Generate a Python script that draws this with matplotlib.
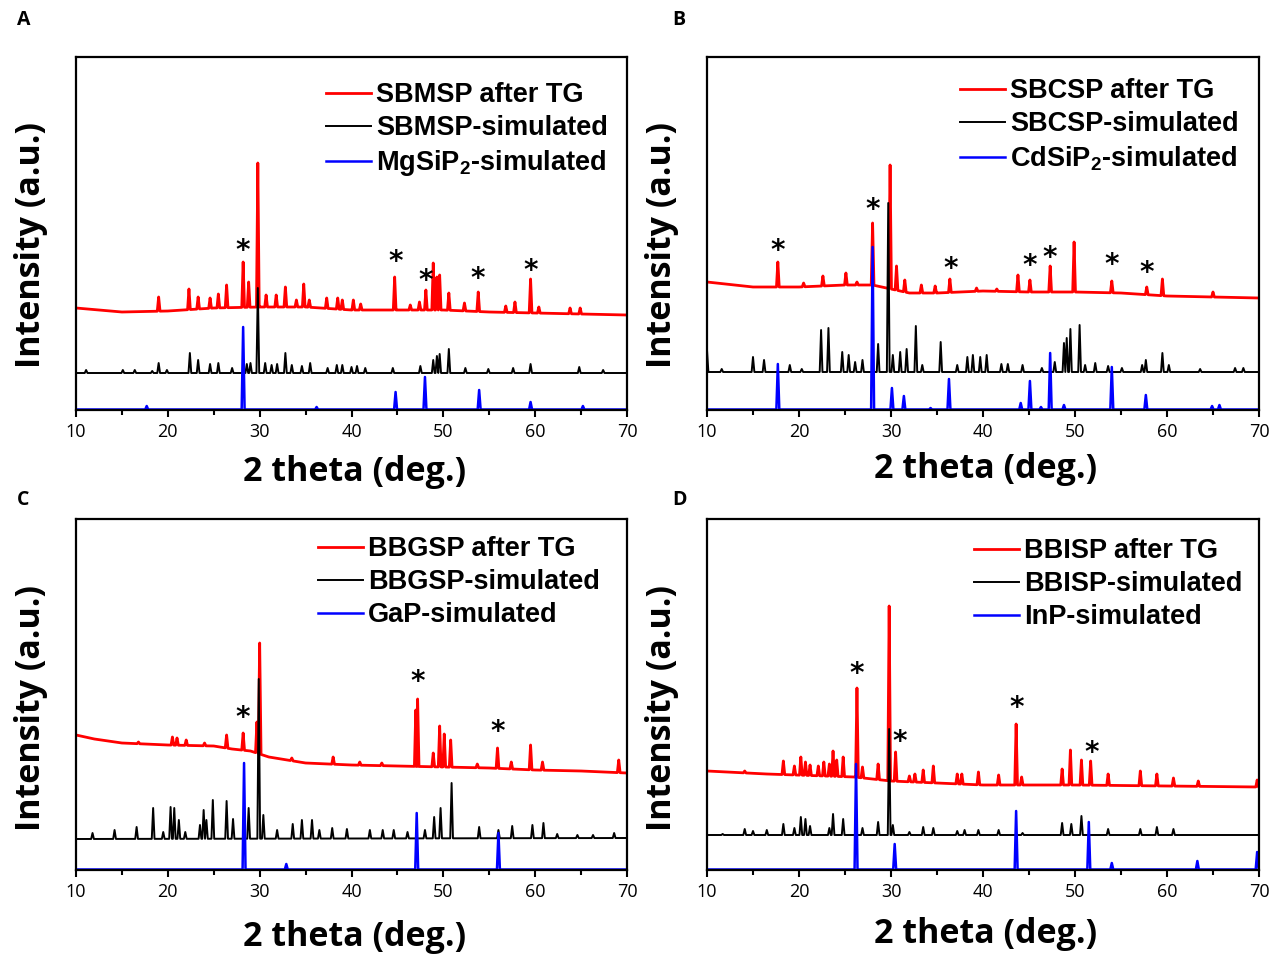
import matplotlib
matplotlib.use("Agg")
import matplotlib.pyplot as plt
import numpy as np

plt.rcParams['font.family'] = ['Open Sans', 'DejaVu Sans']
plt.rcParams['mathtext.fontset'] = 'custom'
plt.rcParams['mathtext.rm'] = 'Liberation Sans:bold'
plt.rcParams['mathtext.bf'] = 'Liberation Sans:bold'

# ---------- panel A ----------
a_red_bx = [10, 15, 20, 25, 30, 35, 40, 45, 50, 55, 60, 65, 70]
a_red_by = [102, 98, 99, 102, 103, 103, 100, 100, 100, 98, 97, 96, 95]
a_red_pos = [19.0, 22.3, 23.3, 24.6, 25.5, 26.4, 28.2, 28.8, 29.8, 30.7, 31.8, 32.8, 34.0, 34.8,
             35.4, 37.3, 38.5, 39.0, 40.2, 41.0, 44.7, 46.4, 47.4, 48.1, 48.9, 49.3, 49.6, 50.6,
             52.3, 53.8, 56.8, 57.8, 59.5, 60.4, 63.8, 64.9]
a_red_int = [113, 121, 113, 112, 116, 125, 148, 128, 247, 115, 115, 123, 110, 126,
             110, 112, 112, 110, 110, 106, 133, 105, 108, 120, 147, 133, 135, 117,
             107, 118, 104, 108, 131, 103, 102, 102]
a_blk_bx = [10, 70]
a_blk_by = [37, 37]
a_blk_pos = [11.1, 15.1, 16.4, 18.3, 19.0, 19.9, 22.4, 23.3, 24.6, 25.5, 27.0, 28.6, 29.0, 29.8,
             30.6, 31.3, 31.9, 32.8, 33.5, 34.6, 35.5, 37.4, 38.4, 39.0, 40.0, 40.6, 41.5, 44.5,
             47.5, 48.9, 49.3, 49.6, 50.6, 52.4, 54.9, 57.6, 59.5, 64.8, 67.4]
a_blk_int = [40, 40, 40, 39, 47, 40, 57, 50, 46, 47, 42, 46, 47, 122,
             47, 45, 46, 57, 45, 44, 47, 42, 45, 45, 43, 44, 42, 42,
             44, 50, 54, 56, 61, 42, 41, 42, 46, 43, 40]
a_blu_pos = [17.7, 28.2, 36.2, 44.8, 48.0, 53.9, 59.5, 65.2]
a_blu_int = [4, 83, 3, 18, 33, 20, 8, 4]
a_stars_x = [28.2, 44.8, 48.1, 53.7, 59.5]
a_stars_y = [159, 148, 129, 131, 139]

# ---------- panel B ----------
b_red_bx = [10, 15, 20, 25, 28, 32, 35, 40, 45, 50, 55, 60, 65, 70]
b_red_by = [128, 123, 123, 125, 125, 117, 117, 119, 118, 118, 117, 114, 113, 112]
b_red_pos = [17.7, 20.5, 22.6, 25.1, 26.3, 28.0, 29.9, 30.6, 31.5, 33.3, 34.8, 36.4, 39.3, 41.5,
             43.8, 45.1, 47.3, 49.9, 54.0, 57.8, 59.5, 65.0]
b_red_int = [148, 127, 134, 137, 128, 187, 245, 144, 130, 125, 124, 131, 122, 121,
             135, 130, 144, 168, 129, 123, 131, 118]
b_blk_bx = [10, 70]
b_blk_by = [38, 38]
b_blk_pos = [10.0, 11.6, 15.0, 16.2, 19.0, 20.3, 22.4, 23.2, 24.7, 25.4, 26.1, 26.9, 28.6, 29.7,
             30.2, 31.0, 31.7, 32.7, 33.4, 35.4, 37.2, 38.3, 38.9, 39.7, 40.4, 42.0, 42.7, 44.3,
             46.4, 47.8, 48.8, 49.1, 49.5, 50.5, 51.1, 52.2, 53.6, 55.1, 57.3, 57.7, 59.5, 60.2,
             63.6, 67.4, 68.3]
b_blk_int = [60, 41, 53, 50, 45, 41, 80, 82, 58, 55, 48, 50, 66, 207,
             55, 58, 61, 84, 45, 68, 45, 53, 55, 53, 55, 46, 46, 45,
             42, 48, 67, 72, 81, 85, 45, 47, 44, 42, 45, 50, 57, 45,
             41, 42, 42]
b_blu_pos = [17.7, 28.0, 30.1, 31.4, 34.3, 36.3, 44.1, 45.1, 46.3, 47.3, 48.8, 54.0, 57.7, 64.9, 65.7]
b_blu_int = [46, 163, 22, 14, 2, 31, 7, 29, 3, 57, 5, 43, 15, 4, 5]
b_stars_x = [17.7, 28.0, 36.5, 45.1, 47.3, 54.0, 57.8]
b_stars_y = [159, 200, 141, 144, 152, 145, 137]

# ---------- panel C ----------
c_red_bx = [10, 12, 15, 20, 25, 27, 29, 31, 35, 40, 45, 50, 55, 60, 65, 70]
c_red_by = [135, 131, 127, 125, 124, 121, 119, 113, 107, 105, 104, 103, 102, 100, 99, 97]
c_red_pos = [16.8, 20.5, 21.0, 22.0, 24.0, 26.4, 28.2, 29.7, 30.0, 33.5, 38.0, 40.9, 43.3, 47.0,
             47.2, 48.9, 49.6, 50.1, 50.8, 53.7, 55.9, 57.4, 59.5, 60.8, 69.1]
c_red_int = [128, 133, 132, 130, 127, 135, 137, 148, 227, 112, 113, 108, 107, 160,
             171, 117, 144, 136, 130, 106, 122, 108, 125, 108, 110]
c_blk_bx = [10, 70]
c_blk_by = [31, 32]
c_blk_pos = [11.8, 14.2, 16.6, 18.4, 19.5, 20.3, 20.7, 21.2, 21.9, 23.5, 23.9, 24.2, 24.9, 26.4,
             27.1, 28.8, 29.9, 30.4, 31.9, 33.6, 34.6, 35.7, 36.5, 37.9, 39.5, 42.0, 43.4, 44.6,
             46.1, 48.0, 49.0, 49.7, 50.9, 53.9, 56.0, 57.5, 59.7, 60.9, 62.4, 64.6, 66.3, 68.6]
c_blk_int = [37, 40, 43, 62, 38, 63, 62, 50, 38, 45, 60, 50, 70, 69,
             51, 62, 191, 55, 40, 46, 50, 50, 40, 42, 41, 40, 40, 40,
             38, 40, 53, 62, 87, 43, 40, 44, 45, 47, 36, 35, 35, 37]
c_blu_pos = [28.3, 32.9, 47.1, 56.0]
c_blu_int = [107, 6, 57, 37]
c_stars_x = [28.2, 47.2, 55.9]
c_stars_y = [152, 188, 138]

# ---------- panel D ----------
d_red_bx = [10, 16.5, 26, 30, 35, 40, 50, 60, 70]
d_red_by = [99, 96, 93, 89, 87, 85, 85, 84, 83]
d_red_pos = [14.1, 18.3, 19.5, 20.2, 20.7, 21.2, 22.1, 22.7, 23.3, 23.7, 24.1, 24.8, 26.3, 26.9,
             28.6, 29.8, 30.5, 32.0, 32.6, 33.5, 34.6, 37.2, 37.7, 39.5, 41.7, 43.6, 44.2, 48.6,
             49.5, 50.7, 51.7, 53.6, 57.1, 58.9, 60.7, 63.4, 69.8]
d_red_int = [99, 109, 104, 113, 108, 105, 104, 108, 106, 119, 110, 113, 182, 103,
             106, 264, 118, 94, 96, 100, 104, 96, 96, 98, 95, 146, 93, 101,
             120, 110, 109, 96, 99, 96, 92, 89, 90]
d_blk_bx = [10, 70]
d_blk_by = [35, 35]
d_blk_pos = [11.7, 14.1, 15.0, 16.5, 18.3, 19.5, 20.2, 20.7, 21.2, 23.3, 23.7, 24.8, 26.9, 28.6,
             29.8, 30.2, 32.0, 33.5, 34.6, 37.2, 38.0, 39.5, 41.7, 44.3, 48.6, 49.6, 50.7, 53.6,
             57.1, 58.9, 60.7]
d_blk_int = [36, 41, 39, 40, 46, 42, 53, 51, 44, 42, 56, 51, 42, 48,
             141, 45, 38, 43, 42, 39, 40, 40, 40, 37, 47, 46, 54, 41,
             41, 43, 41]
d_blu_pos = [26.2, 30.4, 43.6, 51.5, 54.0, 63.3, 69.8]
d_blu_int = [106, 26, 59, 48, 7, 9, 18]
d_stars_x = [26.3, 30.9, 43.7, 51.8]
d_stars_y = [196, 128, 162, 117]

labels_A = ['SBMSP after TG', 'SBMSP-simulated', 'MgSiP$_2$-simulated']
labels_B = ['SBCSP after TG', 'SBCSP-simulated', 'CdSiP$_2$-simulated']
labels_C = ['BBGSP after TG', 'BBGSP-simulated', 'GaP-simulated']
labels_D = ['BBISP after TG', 'BBISP-simulated', 'InP-simulated']


def trace(bx, by, pos, inten, w):
    # stick peaks sitting on a piecewise baseline
    pos = np.asarray(pos, float)
    keep = [x for x in bx if np.all(np.abs(pos - x) > w)]
    pts = [(x, np.interp(x, bx, by)) for x in keep]
    for p, h in zip(pos, inten):
        pts.append((p - w, np.interp(p - w, bx, by)))
        pts.append((p, h))
        pts.append((p + w, np.interp(p + w, bx, by)))
    pts.sort(key=lambda t: t[0])
    xs, ys = zip(*pts)
    return np.array(xs), np.array(ys)


W, H = 1273, 955
fig = plt.figure(figsize=(W / 100, H / 100), dpi=100)

panels = [
    ('A', (76, 57, 627, 410), (a_red_bx, a_red_by, a_red_pos, a_red_int),
     (a_blk_bx, a_blk_by, a_blk_pos, a_blk_int), (a_blu_pos, a_blu_int),
     (a_stars_x, a_stars_y), labels_A, (326, 82), (17, 20), 45, 245),
    ('B', (707, 57, 1259, 410), (b_red_bx, b_red_by, b_red_pos, b_red_int),
     (b_blk_bx, b_blk_by, b_blk_pos, b_blk_int), (b_blu_pos, b_blu_int),
     (b_stars_x, b_stars_y), labels_B, (960, 78), (672, 20), 42, 245),
    ('C', (76, 519, 627, 870), (c_red_bx, c_red_by, c_red_pos, c_red_int),
     (c_blk_bx, c_blk_by, c_blk_pos, c_blk_int), (c_blu_pos, c_blu_int),
     (c_stars_x, c_stars_y), labels_C, (318, 536), (17, 500), 50, 708),
    ('D', (707, 519, 1259, 870), (d_red_bx, d_red_by, d_red_pos, d_red_int),
     (d_blk_bx, d_blk_by, d_blk_pos, d_blk_int), (d_blu_pos, d_blu_int),
     (d_stars_x, d_stars_y), labels_D, (974, 538), (672, 500), 47, 708),
]

for letter, (l, t, r, b), red, blk, blu, stars, labels, leg_xy, let_xy, xl_off, yl_c in panels:
    ax = fig.add_axes([l / W, 1 - b / H, (r - l) / W, (b - t) / H])
    hpx = b - t
    x1, y1 = trace(*red, 0.15)
    x2, y2 = trace(*blk, 0.15)
    x3, y3 = trace([10, 70], [0.5, 0.5], blu[0], blu[1], 0.16)
    l1, = ax.plot(x1, y1, color='#ff0000', lw=2.0, label=labels[0])
    l2, = ax.plot(x2, y2, color='black', lw=1.4, label=labels[1])
    l3, = ax.plot(x3, y3, color='#0000ff', lw=1.8, label=labels[2])
    for sx, sy in zip(*stars):
        ax.text(sx, sy, '*', ha='center', va='center', fontsize=20,
                fontweight='bold', family='DejaVu Sans')
    ax.set_xlim(10, 70)
    ax.set_ylim(0, hpx)
    ax.set_xticks(np.arange(10, 71, 10))
    ax.set_xticks(np.arange(15, 70, 10), minor=True)
    ax.set_yticks([])
    ax.tick_params(axis='x', which='major', direction='out', length=5, width=1.5,
                   labelsize=13, pad=4)
    ax.tick_params(axis='x', which='minor', direction='out', length=3.5, width=1.5)
    for s in ax.spines.values():
        s.set_linewidth(1.6)
    ax.set_xlabel('2 theta (deg.)', fontsize=24.5, fontweight='bold')
    ax.set_ylabel('Intensity (a.u.)', fontsize=24.5, fontweight='bold')
    ax.xaxis.set_label_coords(0.505, -xl_off / hpx)
    ax.yaxis.set_label_coords(-28 / (r - l), (b - yl_c) / hpx)
    lx, ly = leg_xy
    ax.legend(handles=[l1, l2, l3], loc='upper left',
              bbox_to_anchor=((lx - l) / (r - l), (b - ly) / hpx),
              frameon=False, borderpad=0, borderaxespad=0, handlelength=1.65,
              handletextpad=0.2, labelspacing=0.26,
              prop={'family': 'Liberation Sans', 'weight': 'bold', 'size': 19.5})
    fig.text(let_xy[0] / W, 1 - let_xy[1] / H, letter, ha='left', va='center',
             fontsize=14, fontweight='bold')

fig.savefig('out.png', dpi=100)
